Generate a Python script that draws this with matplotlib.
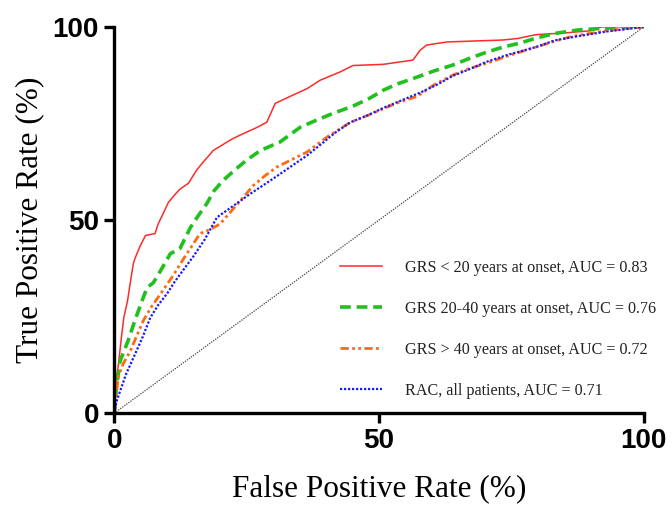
import matplotlib.pyplot as plt

# ROC curves, values (percent)
red_x = [0, 0.3, 0.5, 0.8, 1.3, 1.8, 2.5, 3.0, 3.6, 3.9, 4.8, 5.9, 7.7, 8.3, 9.0, 10.2, 11.4, 12.4, 14.0,
         15.6, 16.8, 18.7, 20.6, 22.3, 23.8, 27.0, 28.8, 30.4, 33.2, 36.4, 38.9, 42.6, 45.1, 50.8, 56.4,
         57.8, 59.0, 62.9, 73.4, 76.2, 79.7, 84.8, 90, 92, 100]
red_y = [0, 5, 10, 12.7, 19, 24.7, 29, 33.5, 38.7, 40, 43, 46, 46.5, 49, 51, 54.5, 56.5, 58, 59.5,
         63, 65, 68, 69.6, 71, 72, 74, 75.3, 80.2, 82, 84, 86.2, 88.3, 90, 90.3, 91.4,
         94, 95.3, 96.1, 96.6, 97, 98, 98.4, 99, 100, 100]

green_x = [0, 0.35, 1.1, 2.6, 3.9, 5.5, 6.2, 7.4, 8.8, 10.6, 12.4, 14.4, 15.8, 17.5, 18.8, 20.6, 22.8,
           25.0, 27.6, 31.3, 35.1, 38.1, 41.3, 45.1, 48.2, 50.8, 53.4, 57.2, 60.4, 63.9, 67.0, 70.4,
           73.5, 76.6, 79.7, 83.2, 87.6, 92, 100]
green_y = [0, 6, 13.5, 18.7, 24, 30, 32.5, 33.8, 37, 41.3, 42.6, 48.1, 51, 54.3, 57.5, 60.3, 63,
           65.5, 68, 70.2, 74, 75.8, 77.6, 79.5, 81.5, 83.6, 85.2, 87, 88.6, 90.1, 91.8, 93.5,
           94.8, 95.8, 97.1, 98.3, 99.2, 99.6, 100]

orange_x = [0, 0.26, 0.8, 1.75, 3.0, 4.4, 5.5, 7.0, 8.8, 11.1, 13.1, 16.2, 18.0, 20.0, 21.9, 23.8, 26.3,
            28.5, 30.7, 33.3, 36.4, 40.2, 44.6, 47.7, 50.8, 53.8, 57.2, 60.4, 63.9, 67.0, 70.4, 74.4,
            79.7, 83.2, 86.1, 87.6, 93, 100]
orange_y = [0, 4, 9.6, 13, 16, 20.5, 24, 27.5, 31, 35.6, 40, 46.5, 47.5, 49, 52, 55, 59,
            61.5, 63.7, 65.5, 67.6, 71.5, 75.3, 77, 78.8, 80.5, 82, 85, 87.5, 89.2, 90.6, 92.5,
            94.8, 96.3, 97.4, 97.8, 99, 100]

blue_x = [0, 0.44, 1.1, 2.2, 3.6, 5.3, 6.8, 8.3, 10.0, 11.4, 13.0, 14.9, 17.1, 19.4, 22.3, 25.7, 30.0,
          33.3, 36.4, 39.4, 41.6, 44.6, 47.7, 50.8, 54.3, 57.8, 60.9, 63.9, 67.0, 70.4, 74.4, 79.7,
          83.2, 87.6, 93, 100]
blue_y = [0, 3, 5.7, 10, 14.3, 19.5, 24.7, 28, 31, 34, 37, 40.5, 45, 50.7, 53.5, 56.8, 60.7,
          63.8, 66.7, 70, 72.5, 75.3, 77, 79, 81, 83, 85, 87.3, 89, 91, 92.8, 94.8,
          96.5, 97.6, 98.8, 100]

labels = ['GRS < 20 years at onset, AUC = 0.83',
          'GRS 20-40 years at onset, AUC = 0.76',
          'GRS > 40 years at onset, AUC = 0.72',
          'RAC, all patients, AUC = 0.71']
ticks = [0, 50, 100]

fig = plt.figure(figsize=(6.72, 5.07), dpi=100)
ax = fig.add_axes([0.170, 0.185, 0.788, 0.762])

ax.plot([0, 100], [0, 100], color='#444444', linestyle=(0, (1, 1)), linewidth=0.9)
ax.plot(red_x, red_y, color='#ff2a2a', linewidth=1.1, label=labels[0])
ax.plot(green_x, green_y, color='#22c01e', linewidth=2.6, linestyle=(0, (3, 1.6)), label=labels[1])
ax.plot(orange_x, orange_y, color='#ff6a10', linewidth=2.0, linestyle=(0, (3, 1.2, 1, 1.2, 1, 1.2)), label=labels[2])
ax.plot(blue_x, blue_y, color='#1a1aff', linewidth=1.6, linestyle=(0, (1, 0.8)), label=labels[3])

ax.set_xlim(0, 100)
ax.set_ylim(0, 100)
ax.set_xticks(ticks)
ax.set_yticks(ticks)
for s in ['top', 'right']:
    ax.spines[s].set_visible(False)
for s in ['left', 'bottom']:
    ax.spines[s].set_linewidth(2.4)
ax.tick_params(width=2.4, length=7, pad=4)
for lab in ax.get_xticklabels() + ax.get_yticklabels():
    lab.set_fontfamily('Liberation Sans')
    lab.set_fontweight('bold')
    lab.set_fontsize(20)

ax.set_xlabel('False Positive Rate (%)', family='Liberation Serif', fontsize=22.5, labelpad=14)
ax.set_ylabel('True Positive Rate (%)', family='Liberation Serif', fontsize=22.5, labelpad=6)

leg = ax.legend(loc='center left', bbox_to_anchor=(0.506, 0.350), bbox_transform=fig.transFigure,
                frameon=False, borderpad=0, borderaxespad=0, handlelength=2.6, handletextpad=1.43,
                labelspacing=1.55, prop={'family': 'Liberation Serif', 'size': 11.6})
for t in leg.get_texts():
    t.set_color('#222222')

fig.savefig('out.png', dpi=100)
